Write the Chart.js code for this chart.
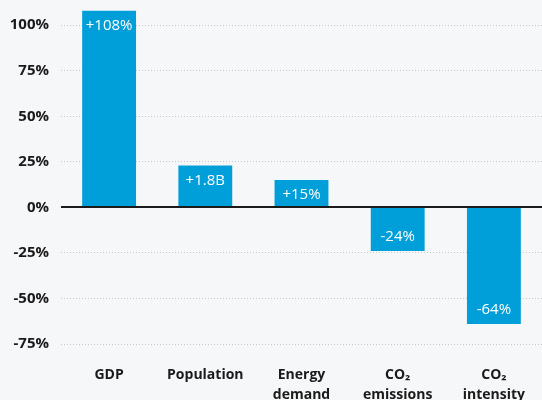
<!DOCTYPE html>
<html>
<head>
<meta charset="utf-8">
<script src="https://cdn.jsdelivr.net/npm/chart.js@4/dist/chart.umd.min.js"></script>
<style>
  html, body { margin: 0; padding: 0; background: #f6f7f9; }
  #wrap { width: 542px; height: 400px; }
</style>
</head>
<body>
<div id="wrap"><canvas id="impactChart" width="542" height="400"></canvas></div>
<script>
const categories = ['GDP', 'Population', ['Energy', 'demand'], ['CO₂', 'emissions'], ['CO₂', 'intensity']];
const changeValues = [108, 23, 15, -24, -64];
const barLabels = ['+108%', '+1.8B', '+15%', '-24%', '-64%'];
const yTicks = [-75, -50, -25, 0, 25, 50, 75, 100];

const barColor = '#009fda';
const textColor = '#1a1a1a';

// white value labels just inside the end of each bar
const barLabelPlugin = {
  id: 'barLabels',
  afterDatasetsDraw(chart) {
    const ctx = chart.ctx;
    const meta = chart.getDatasetMeta(0);
    ctx.save();
    ctx.fillStyle = '#ffffff';
    ctx.font = '15px "Open Sans"';
    ctx.textAlign = 'center';
    ctx.textBaseline = 'middle';
    meta.data.forEach((bar, i) => {
      const up = changeValues[i] >= 0;
      ctx.fillText(barLabels[i], bar.x, bar.y + (up ? 15 : -14));
    });
    ctx.restore();
  }
};

const zeroLinePlugin = {
  id: 'zeroLine',
  afterDatasetsDraw(chart) {
    const { ctx, chartArea, scales } = chart;
    const y = Math.round(scales.y.getPixelForValue(0));
    ctx.save();
    ctx.strokeStyle = textColor;
    ctx.lineWidth = 2;
    ctx.beginPath();
    ctx.moveTo(chartArea.left, y);
    ctx.lineTo(chartArea.right, y);
    ctx.stroke();
    ctx.restore();
  }
};

new Chart(document.getElementById('impactChart').getContext('2d'), {
  type: 'bar',
  data: {
    labels: categories,
    datasets: [{
      data: changeValues,
      backgroundColor: barColor,
      borderWidth: 0,
      barPercentage: 0.56,
      categoryPercentage: 1
    }]
  },
  options: {
    responsive: false,
    animation: false,
    layout: { padding: { top: 7, right: 0, left: 0, bottom: 0 } },
    plugins: {
      legend: { display: false },
      tooltip: { enabled: false }
    },
    scales: {
      x: {
        grid: { display: false },
        border: { display: false },
        ticks: {
          color: textColor,
          padding: 13,
          maxRotation: 0,
          font: { family: '"Open Sans"', size: 14, weight: 'bold', lineHeight: 1.45 }
        },
        afterFit(scale) { scale.height = 56; }
      },
      y: {
        min: -75,
        max: 110,
        afterBuildTicks(scale) { scale.ticks = yTicks.map(v => ({ value: v })); },
        grid: {
          color: ctx => ctx.tick && ctx.tick.value === 0 ? 'rgba(0,0,0,0)' : '#c4c7cc',
          lineWidth: 1,
          drawTicks: false
        },
        border: { display: false, dash: [1, 2] },
        ticks: {
          color: textColor,
          padding: 12,
          font: { family: '"Open Sans"', size: 15, weight: 'bold' },
          callback: v => v + '%'
        },
        afterFit(scale) {
          scale.width = 61;
          scale.paddingTop = 0;
          scale.paddingBottom = 0;
        }
      }
    }
  },
  plugins: [barLabelPlugin, zeroLinePlugin]
});
</script>
</body>
</html>
